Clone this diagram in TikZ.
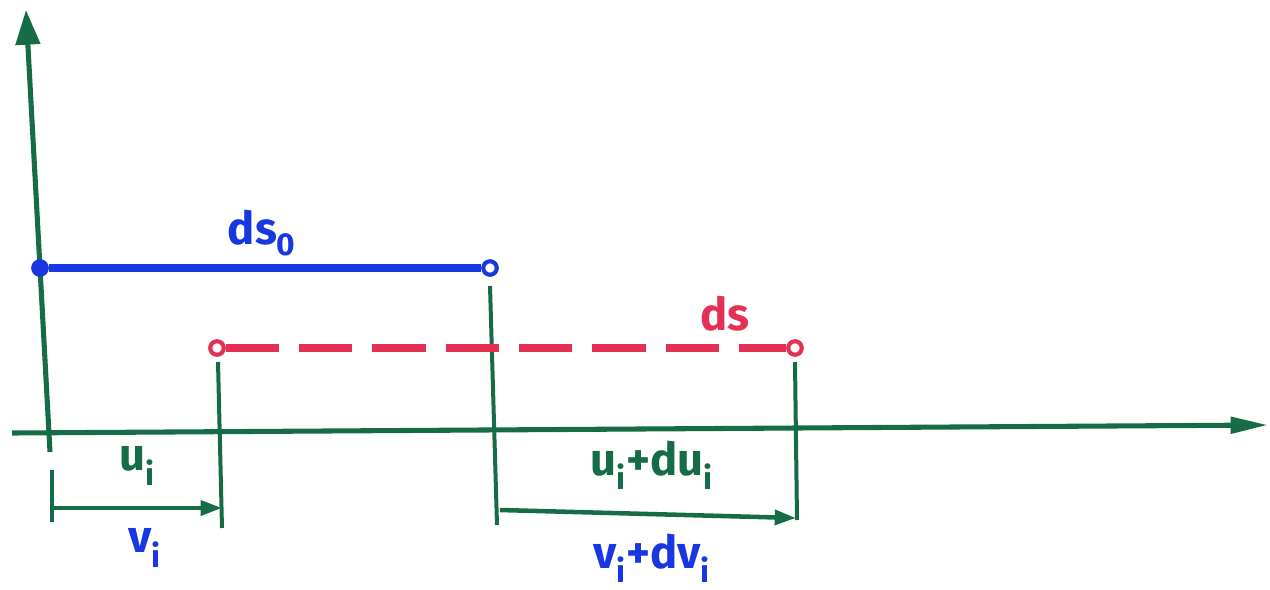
\documentclass[tikz,border=0pt]{standalone}
\usepackage{fontspec}
\setmainfont{Fira Sans}
\usetikzlibrary{arrows.meta}
\definecolor{pgreen}{RGB}{22,108,70}
\definecolor{pblue}{RGB}{25,55,225}
\definecolor{pred}{RGB}{228,48,82}
\begin{document}
\begin{tikzpicture}[x=0.75pt,y=-0.75pt,
  axisline/.style={draw=pgreen, line width=3.8pt},
  tickline/.style={draw=pgreen, line width=3pt},
  measure/.style={draw=pgreen, line width=3.4pt, -{Triangle[length=16pt,width=11pt]}},
  endpt/.style={circle, fill=white, line width=3pt, inner sep=0pt, minimum size=10pt},
  blueline/.style={draw=pblue, line width=5.5pt},
  redline/.style={draw=pred, line width=5.5pt, dash pattern=on 40pt off 15pt},
  lbl/.style={font=\fontsize{34}{38}\selectfont\bfseries, inner sep=0pt}]
\useasboundingbox (0,0) rectangle (1270,589);
% axes
\coordinate (o) at (50,452);
\coordinate (ytop) at (26,10);
\coordinate (xl) at (12,433);
\coordinate (xr) at (1268,425);
\draw[axisline, -{Triangle[length=26pt,width=18pt]}] (o) -- (ytop);
\draw[axisline, -{Triangle[length=28pt,width=12pt]}] (xl) -- (xr);
% segments
\node[endpt, draw=pblue] (b1) at (40,268) {};
\node[endpt, draw=pblue] (b2) at (490,268) {};
\node[endpt, draw=pred] (r1) at (217,348) {};
\node[endpt, draw=pred] (r2) at (795,348) {};
% ticks
\coordinate (t0a) at (52,470); \coordinate (t0b) at (52,522);
\coordinate (t1a) at (218,362); \coordinate (t1b) at (222,528);
\coordinate (t2a) at (490,286); \coordinate (t2b) at (497,525);
\coordinate (t3a) at (795,362); \coordinate (t3b) at (797,520);
\draw[tickline] (t0a) -- (t0b);
\draw[tickline] (t1a) -- (t1b);
\draw[tickline] (t2a) -- (t2b);
\draw[tickline] (t3a) -- (t3b);
\draw[blueline] (b1) -- (b2);
\draw[redline] (r1) -- (r2);
\node[endpt, draw=pblue, fill=pblue] at (b1) {};
\node[endpt, draw=pblue] at (b2) {};
\node[endpt, draw=pred] at (r1) {};
\node[endpt, draw=pred] at (r2) {};
% displacement arrows
\coordinate (a1s) at (54,508); \coordinate (a1e) at (222,508);
\coordinate (a2s) at (500,510); \coordinate (a2e) at (796,518);
\draw[measure] (a1s) -- (a1e);
\draw[measure] (a2s) -- (a2e);
% labels
\node[lbl, text=pblue] (ds0) at (262,233) {ds\textsubscript{0}};
\node[lbl, text=pred] (ds) at (725,314) {ds};
\node[lbl, text=pgreen] (ui) at (137,466) {u\textsubscript{i}};
\node[lbl, text=pgreen] (uidui) at (652,465) {u\textsubscript{i}+du\textsubscript{i}};
\node[lbl, text=pblue] (vi) at (145,548) {v\textsubscript{i}};
\node[lbl, text=pblue] (vidvi) at (652,558) {v\textsubscript{i}+dv\textsubscript{i}};
\end{tikzpicture}
\end{document}
